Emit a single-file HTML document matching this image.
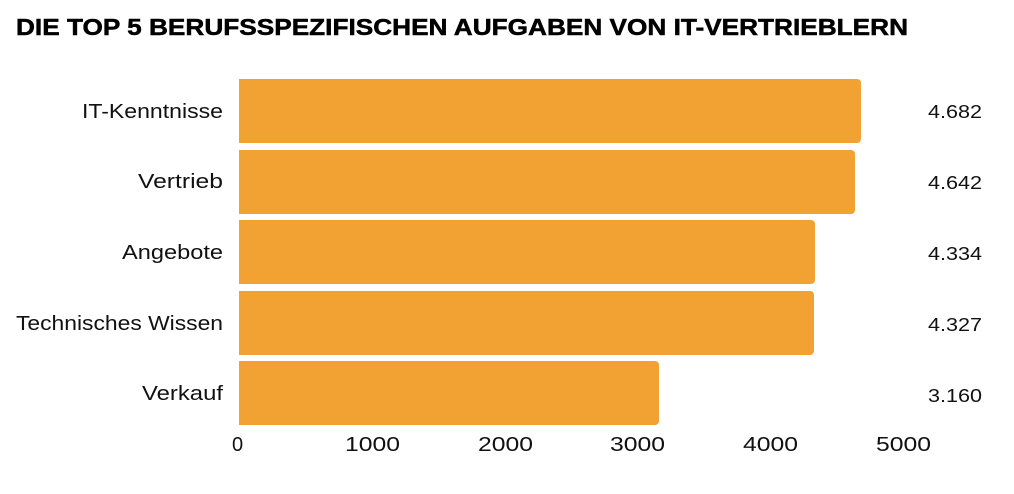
<!DOCTYPE html>
<html><head><meta charset="utf-8"><style>body{margin:0;background:#fff}</style></head>
<body>
<svg width="1014" height="489" xmlns="http://www.w3.org/2000/svg" font-family="Liberation Sans, sans-serif">
<rect width="1014" height="489" fill="#fff"/>
<text x="16" y="35" font-size="23" font-weight="bold" fill="#000" stroke="#000" stroke-width="0.5" textLength="892" lengthAdjust="spacingAndGlyphs">DIE TOP 5 BERUFSSPEZIFISCHEN AUFGABEN VON IT-VERTRIEBLERN</text>
<g fill="#F2A232">
<rect x="230" y="79" width="631" height="64" rx="4"/>
<rect x="230" y="150" width="625" height="64" rx="4"/>
<rect x="230" y="220" width="585" height="64" rx="4"/>
<rect x="230" y="291" width="584" height="64" rx="4"/>
<rect x="230" y="361" width="429" height="64" rx="4"/>
</g>
<rect x="230" y="70" width="9" height="360" fill="#fff"/>
<g font-size="20" fill="#111">
<text x="82" y="118" textLength="141" lengthAdjust="spacingAndGlyphs">IT-Kenntnisse</text>
<text x="138" y="188" textLength="85" lengthAdjust="spacingAndGlyphs">Vertrieb</text>
<text x="122" y="259" textLength="101" lengthAdjust="spacingAndGlyphs">Angebote</text>
<text x="16" y="330" textLength="207" lengthAdjust="spacingAndGlyphs">Technisches Wissen</text>
<text x="142" y="400" textLength="81" lengthAdjust="spacingAndGlyphs">Verkauf</text>
</g>
<g font-size="18" fill="#111">
<text x="928" y="118" textLength="54" lengthAdjust="spacingAndGlyphs">4.682</text>
<text x="928" y="189" textLength="54" lengthAdjust="spacingAndGlyphs">4.642</text>
<text x="928" y="260" textLength="54" lengthAdjust="spacingAndGlyphs">4.334</text>
<text x="928" y="331" textLength="54" lengthAdjust="spacingAndGlyphs">4.327</text>
<text x="928" y="402" textLength="54" lengthAdjust="spacingAndGlyphs">3.160</text>
</g>
<g font-size="20" fill="#111">
<text x="232" y="451">0</text>
<text x="345" y="451" textLength="55" lengthAdjust="spacingAndGlyphs">1000</text>
<text x="478" y="451" textLength="55" lengthAdjust="spacingAndGlyphs">2000</text>
<text x="610" y="451" textLength="55" lengthAdjust="spacingAndGlyphs">3000</text>
<text x="743" y="451" textLength="55" lengthAdjust="spacingAndGlyphs">4000</text>
<text x="876" y="451" textLength="55" lengthAdjust="spacingAndGlyphs">5000</text>
</g>
</svg>
</body></html>
